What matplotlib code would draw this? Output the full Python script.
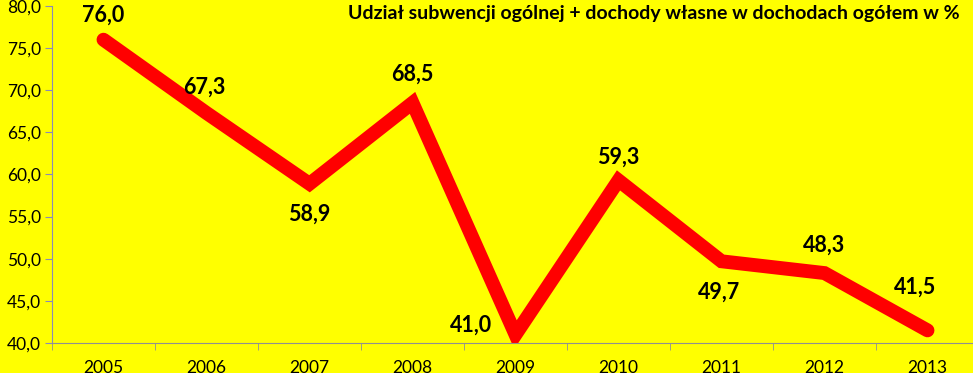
import matplotlib.pyplot as plt

years = ["2005", "2006", "2007", "2008", "2009", "2010", "2011", "2012", "2013"]
values = [76.0, 67.3, 58.9, 68.5, 41.0, 59.3, 49.7, 48.3, 41.5]
# label offsets in pixels (dx, dy)
offsets = [(0, 24), (-2, 26), (0, -30), (0, 29), (-45, 9), (0, 23), (-2, -31), (0, 28), (-12, 43)]
yticks = [40, 45, 50, 55, 60, 65, 70, 75, 80]

plt.rcParams['font.family'] = ['Lato', 'DejaVu Sans']

fig = plt.figure(figsize=(9.73, 3.73), dpi=100, facecolor='#FFFF00')
ax = fig.add_axes([52 / 973, 30 / 373, 927 / 973, 337 / 373])
ax.set_facecolor('#FFFF00')

x = list(range(len(years)))
ax.plot(x, values, color='#FF0000', linewidth=10, solid_capstyle='round', solid_joinstyle='miter')

for i, v in enumerate(values):
    ax.annotate(f"{v:.1f}".replace('.', ','), (i, v), xytext=offsets[i], textcoords='offset pixels',
                ha='center', va='center', fontsize=15.5, fontweight='bold', color='black')

ax.set_xlim(-0.5, len(years) - 0.5)
ax.set_ylim(40, 80)
ax.set_yticks(yticks)
ax.set_yticklabels([f"{t:.1f}".replace('.', ',') for t in yticks], fontsize=12.5)
ax.set_xticks(x)
ax.set_xticklabels(years, fontsize=12.5)
ax.set_xticks([i - 0.5 for i in range(len(years) + 1)], minor=True)
ax.tick_params(axis='x', which='major', length=0, pad=12)
ax.tick_params(axis='x', which='minor', length=5, color='#909090')
ax.tick_params(axis='y', length=5, color='#8A8AB8', pad=3)

for s in ['top', 'right']:
    ax.spines[s].set_visible(False)
ax.spines['left'].set_color('#8A8AB8')
ax.spines['bottom'].set_color('#909090')

fig.text(960 / 973, 1 - 14 / 373, "Udział subwencji ogólnej + dochody własne w dochodach ogółem w %",
         ha='right', va='center', fontsize=14, fontweight='bold')

fig.savefig('out.png', dpi=100, facecolor=fig.get_facecolor())
